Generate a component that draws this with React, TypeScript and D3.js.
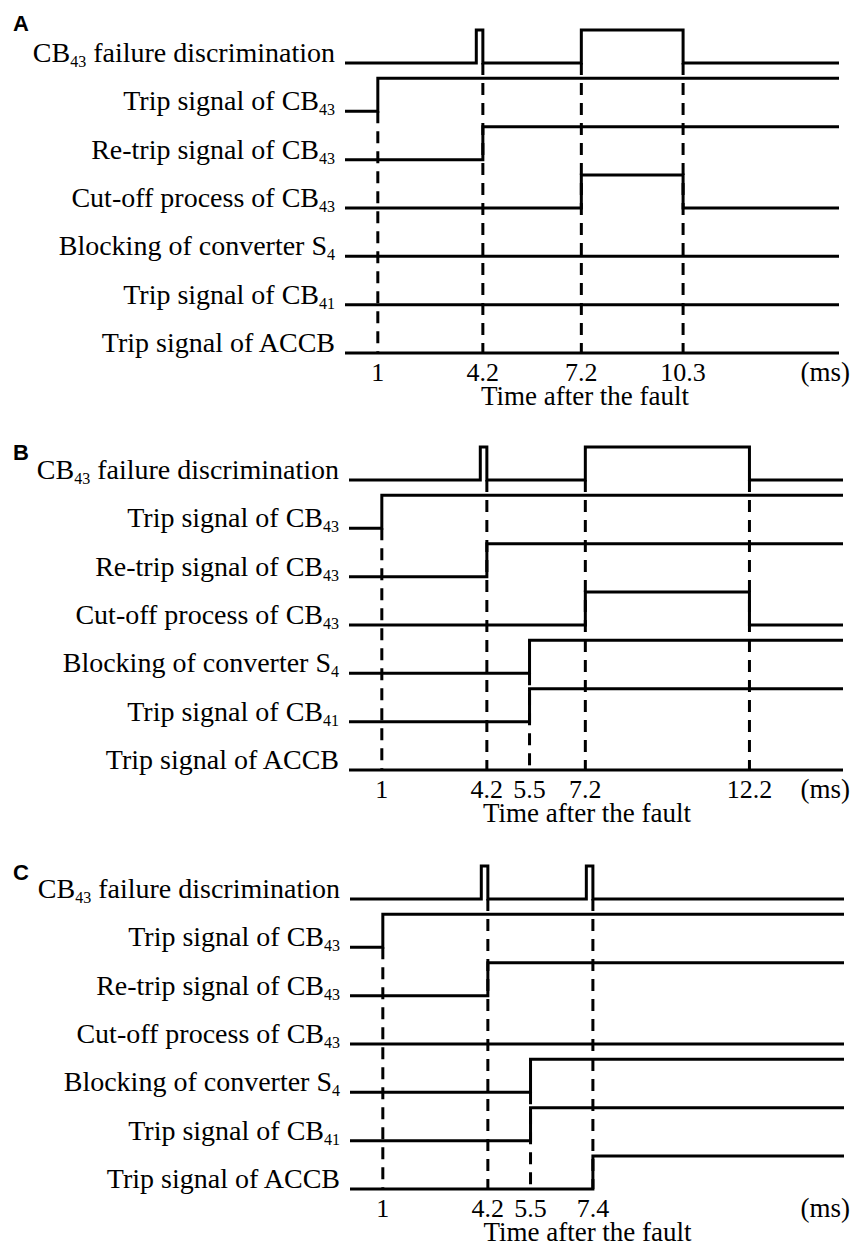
import React from "react";
import * as d3 from "d3";

// Signal names (main text + optional subscript)
const signalNames: { main: string; sub?: string; pre?: string }[] = [
  { pre: "CB", sub: "43", main: " failure discrimination" },
  { main: "Trip signal of CB", sub: "43" },
  { main: "Re-trip signal of CB", sub: "43" },
  { main: "Cut-off process of CB", sub: "43" },
  { main: "Blocking of converter S", sub: "4" },
  { main: "Trip signal of CB", sub: "41" },
  { main: "Trip signal of ACCB" },
];

// Toggle times (ms) for each signal, starting from the low level
const togglesA: number[][] = [[4.0, 4.2, 7.2, 10.3], [1], [4.2], [7.2, 10.3], [], [], []];
const togglesB: number[][] = [[4.0, 4.2, 7.2, 12.2], [1], [4.2], [7.2, 12.2], [5.5], [5.5], []];
const togglesC: number[][] = [[4.0, 4.2, 7.2, 7.4], [1], [4.2], [], [5.5], [5.5], [7.4]];

// Event times marked on the time axis
const ticksA = [1, 4.2, 7.2, 10.3];
const ticksB = [1, 4.2, 5.5, 7.2, 12.2];
const ticksC = [1, 4.2, 5.5, 7.4];

// Signal row where each dashed event marker begins
const markerStartA = [1, 0, 0, 0];
const markerStartB = [1, 0, 4, 0, 0];
const markerStartC = [1, 0, 4, 0];

const panelLetters = ["A", "B", "C"];

const T_END = 15.05;
const ROW_GAP = 48.33;
const PULSE_H = 33;
const W = 858;
const H = 1248;

type PanelProps = {
  letter: string;
  top: number; // baseline y of first signal row
  dx: number; // horizontal shift of the panel
  toggles: number[][];
  ticks: number[];
  markerStart: number[];
  letterY: number;
};

function Panel({ letter, top, dx, toggles, ticks, markerStart, letterY }: PanelProps) {
  const x = d3.scaleLinear().domain([0, T_END]).range([345 + dx, 839 + dx]);
  const rowY = (i: number) => top + i * ROW_GAP;
  const bottom = rowY(toggles.length - 1);

  const paths = toggles.map((tg, i) => {
    const pts: [number, number][] = [[0, 0]];
    let v = 0;
    tg.forEach((t) => {
      v = 1 - v;
      pts.push([t, v]);
    });
    pts.push([T_END, v]);
    const y = d3.scaleLinear().domain([0, 1]).range([rowY(i), rowY(i) - PULSE_H]);
    const line = d3
      .line<[number, number]>()
      .x((d) => x(d[0]))
      .y((d) => y(d[1]))
      .curve(d3.curveStepAfter);
    return line(pts) || "";
  });

  const labelX = 335 + dx;
  const font = "'Liberation Serif', 'Times New Roman', serif";

  return (
    <g>
      <text
        x={13}
        y={letterY}
        fontFamily="'Liberation Sans', Arial, sans-serif"
        fontWeight="bold"
        fontSize={22}
      >
        {letter}
      </text>
      {signalNames.map((s, i) => (
        <text key={i} x={labelX} y={rowY(i) - 1} textAnchor="end" fontFamily={font} fontSize={28} fill="#000">
          {s.pre ? (
            <>
              <tspan>{s.pre}</tspan>
              <tspan fontSize={16} dy={5}>{s.sub}</tspan>
              <tspan dy={-5}>{s.main}</tspan>
            </>
          ) : (
            <>
              <tspan>{s.main}</tspan>
              {s.sub ? <tspan fontSize={16} dy={5}>{s.sub}</tspan> : null}
            </>
          )}
        </text>
      ))}
      {ticks.map((t, k) => (
        <line
          key={"m" + k}
          x1={x(t)}
          x2={x(t)}
          y1={rowY(markerStart[k])}
          y2={bottom}
          stroke="#000"
          strokeWidth={3}
          strokeDasharray="12,8"
        />
      ))}
      {paths.map((p, i) => (
        <path key={i} d={p} fill="none" stroke="#000" strokeWidth={3} strokeLinejoin="miter" />
      ))}
      {ticks.map((t, k) => (
        <text key={"t" + k} x={x(t)} y={bottom + 28} textAnchor="middle" fontFamily={font} fontSize={26}>
          {t}
        </text>
      ))}
      <text x={850} y={bottom + 28} textAnchor="end" fontFamily={font} fontSize={27}>
        (ms)
      </text>
      <text x={585 + dx / 2} y={bottom + 52} textAnchor="middle" fontFamily={font} fontSize={27}>
        Time after the fault
      </text>
    </g>
  );
}

export default function App() {
  return (
    <svg
      width={W}
      height={H}
      viewBox={`0 0 ${W} ${H}`}
      style={{ position: "absolute", left: 0, top: 0, background: "#fff" }}
    >
      <rect width={W} height={H} fill="#fff" />
      <Panel
        letter={panelLetters[0]}
        top={63}
        dx={0}
        toggles={togglesA}
        ticks={ticksA}
        markerStart={markerStartA}
        letterY={31}
      />
      <Panel
        letter={panelLetters[1]}
        top={480}
        dx={4}
        toggles={togglesB}
        ticks={ticksB}
        markerStart={markerStartB}
        letterY={460}
      />
      <Panel
        letter={panelLetters[2]}
        top={899}
        dx={5}
        toggles={togglesC}
        ticks={ticksC}
        markerStart={markerStartC}
        letterY={880}
      />
    </svg>
  );
}
